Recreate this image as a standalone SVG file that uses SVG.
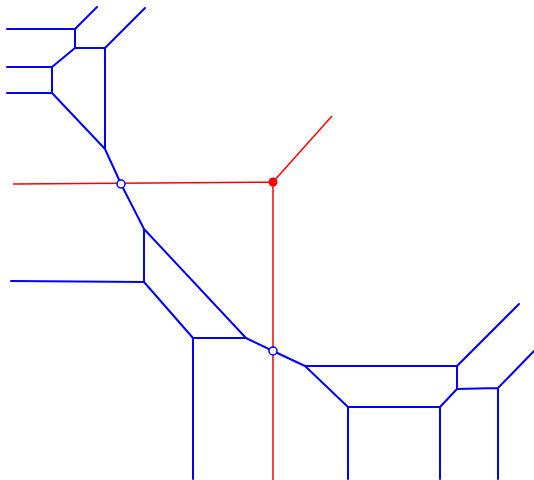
<svg xmlns="http://www.w3.org/2000/svg" width="534" height="480" viewBox="0 0 534 480">
<style>
.b{stroke:#0000ff;stroke-width:2;fill:none;stroke-linecap:round;stroke-linejoin:round}
.r{stroke:#ff0000;stroke-width:1.5;fill:none}
.o{fill:#fff;stroke:#0000ff;stroke-width:1.5}
</style>
<rect width="534" height="480" fill="#fff"/>
<g id="connectors">
<g id="red">
<path class="r" d="M13,184 L273,182 M273,182 L332,116 M273,182 L273,480"/>
</g>
<g id="blue">
<path class="b" d="M7,29 L75,29 L97,7 M75,29 L75,48 L105,48 L145,8 M75,48 L52,67 L7,67 M52,67 L52,93 L7,93 M52,93 L105,149 L105,48 M105,149 L121,184 L144,229 L144,282 L11,281 M144,282 L193,338 L246,338 L144,229 M246,338 L273,351 L305,366 L457,366 L519,304 M457,366 L457,389 L498,388 L534,351 M498,388 L498,479 M457,389 L440,407 L440,479 M305,366 L348,407 L440,407 M348,407 L348,479 M193,338 L193,479"/>
</g>
</g>
<g id="node-1"><circle class="o" cx="121" cy="184" r="4"/></g>
<g id="node-2"><circle class="o" cx="273" cy="351" r="4"/></g>
<g id="node-3"><circle cx="273" cy="182" r="4.5" fill="#ff0000"/></g>
</svg>
